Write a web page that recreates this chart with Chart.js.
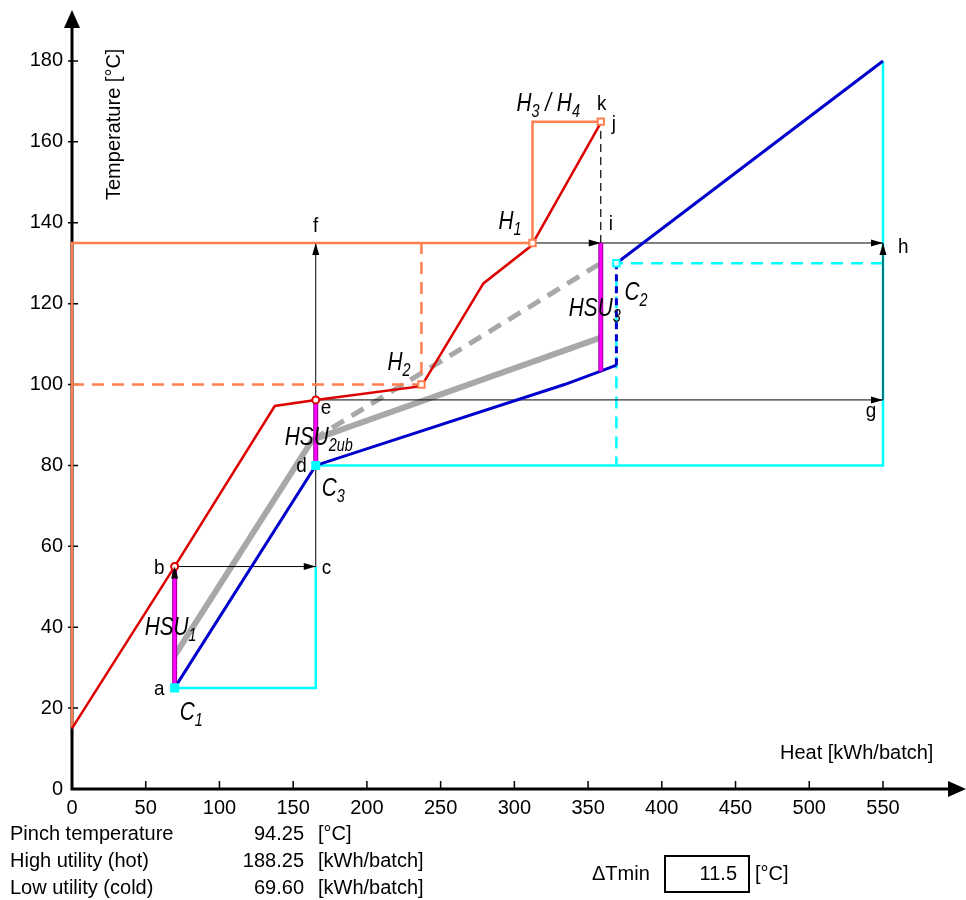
<!DOCTYPE html>
<html>
<head>
<meta charset="utf-8">
<script src="https://cdn.jsdelivr.net/npm/chart.js@4.4.0/dist/chart.umd.min.js"></script>
<style>
  html, body { margin: 0; padding: 0; background: #fff; }
  canvas { display: block; }
</style>
</head>
<body>
<canvas id="grafico" width="966" height="900"></canvas>
<script>
const FUENTE = '"Liberation Sans", Arial, Helvetica, sans-serif';

// ejes
const xTicks = [0, 50, 100, 150, 200, 250, 300, 350, 400, 450, 500, 550];
const yTicks = [0, 20, 40, 60, 80, 100, 120, 140, 160, 180];

// curva compuesta caliente (roja)
const calienteX = [0, 69.6, 137.5, 165.3, 237, 279, 311.5, 358.6];
const calienteY = [15, 55, 94.7, 96.2, 99.6, 125, 134.3, 164.7];

// curva compuesta fria (azul)
const friaX = [69.6, 165.3, 334, 358.6, 369.2, 369.2, 550];
const friaY = [25, 80, 100, 103.3, 104.8, 130, 180];

// curva desplazada (gris)
const grisX = [69.6, 163, 358.6];
const grisY = [33, 86.3, 111.6];
const grisDashX = [163, 358.6];
const grisDashY = [86.3, 130];

// corrientes calientes H1, H3/H4 y H2 (naranja)
const h1X = [0, 0, 312.3, 312.3, 358.6];
const h1Y = [15, 135, 135, 165, 165];
const h2X = [0, 237, 237];
const h2Y = [100, 100, 135];

// corrientes frias C1, C3, C2 (cian)
const c1X = [69.6, 165.3, 165.3];
const c1Y = [25, 25, 55];
const c3X = [165.3, 550, 550];
const c3Y = [80, 80, 180];
const c2X = [550, 369.2, 369.2];
const c2Y = [130, 130, 80];

// servicios calientes HSU (magenta)
const hsuX  = [69.6, 165.3, 358.6];
const hsuY0 = [25, 80, 103.3];
const hsuY1 = [55, 96.2, 135];

// flechas negras a->b, b->c, c->f, e->g, g->h, f->i, i->h
const flechaDeX  = [69.6, 69.6, 165.3, 165.3, 550, 165.3, 358.6];
const flechaDeY  = [25, 55, 55, 96.2, 96.2, 135, 135];
const flechaAX   = [69.6, 165.3, 165.3, 550, 550, 358.6, 550];
const flechaAY   = [55, 55, 135, 96.2, 135, 135, 135];
const punteadaX  = [358.6, 358.6];
const punteadaY  = [135, 163.5];

// marcadores
const circulosX = [69.6, 165.3];
const circulosY = [55, 96.2];
const cuadNaranjaX = [312.3, 237, 358.6];
const cuadNaranjaY = [135, 100, 165];
const cuadCianX = [369.2];
const cuadCianY = [130];
const cuadLlenoX = [69.6, 165.3];
const cuadLlenoY = [25, 80];

// tabla resumen
const resumenNombres  = ['Pinch temperature', 'High utility (hot)', 'Low utility (cold)'];
const resumenValores  = ['94.25', '188.25', '69.60'];
const resumenUnidades = ['[°C]', '[kWh/batch]', '[kWh/batch]'];
const dTmin = '11.5';

// etiquetas: partes [texto, esSubindice], punto ancla, desplazamiento en px
const etiquetas = [
  { p: [['a']], x: 69.6, y: 25, dx: -10, dy: 7, al: 'right' },
  { p: [['b']], x: 69.6, y: 55, dx: -10, dy: 7, al: 'right' },
  { p: [['c']], x: 165.3, y: 55, dx: 6, dy: 7, al: 'left' },
  { p: [['d']], x: 165.3, y: 80, dx: -9, dy: 7, al: 'right' },
  { p: [['e']], x: 165.3, y: 96.2, dx: 5, dy: 14, al: 'left' },
  { p: [['f']], x: 165.3, y: 135, dx: 0, dy: -11, al: 'center' },
  { p: [['g']], x: 550, y: 96.2, dx: -12, dy: 17, al: 'center' },
  { p: [['h']], x: 550, y: 135, dx: 15, dy: 10, al: 'left' },
  { p: [['i']], x: 358.6, y: 135, dx: 8, dy: -13, al: 'left' },
  { p: [['j']], x: 358.6, y: 165, dx: 11, dy: 8, al: 'left' },
  { p: [['k']], x: 358.6, y: 165, dx: 1, dy: -12, al: 'center' },
  { p: [['C'], ['1', 1]], x: 69.6, y: 25, dx: 5, dy: 32, al: 'left', it: 1 },
  { p: [['C'], ['3', 1]], x: 165.3, y: 80, dx: 6, dy: 31, al: 'left', it: 1 },
  { p: [['C'], ['2', 1]], x: 369.2, y: 130, dx: 8, dy: 37, al: 'left', it: 1 },
  { p: [['H'], ['1', 1]], x: 312.3, y: 135, dx: -34, dy: -14, al: 'left', it: 1 },
  { p: [['H'], ['2', 1]], x: 237, y: 100, dx: -34, dy: -15, al: 'left', it: 1 },
  { p: [['H'], ['3', 1], [' / H'], ['4', 1]], x: 312.3, y: 165, dx: -16, dy: -11, al: 'left', it: 1 },
  { p: [['HSU'], ['1', 1]], x: 69.6, y: 40, dx: -30, dy: 8, al: 'left', it: 1 },
  { p: [['HSU'], ['2ub', 1]], x: 165.3, y: 85, dx: -31, dy: 0, al: 'left', it: 1 },
  { p: [['HSU'], ['3', 1]], x: 358.6, y: 117, dx: -32, dy: 0, al: 'left', it: 1 }
];

function puntos(xs, ys) {
  return xs.map((x, i) => ({ x, y: ys[i] }));
}

function linea(data, color, ancho, orden, trazo) {
  return {
    data,
    borderColor: color,
    backgroundColor: color,
    borderWidth: ancho,
    borderDash: trazo || [],
    showLine: true,
    pointRadius: 0,
    pointHoverRadius: 0,
    tension: 0,
    clip: false,
    borderCapStyle: 'butt',
    borderJoinStyle: 'miter',
    order: orden
  };
}

function marcador(data, estilo, radio, borde, relleno, orden) {
  return {
    data,
    showLine: false,
    pointStyle: estilo,
    pointRadius: radio,
    pointHoverRadius: radio,
    pointBorderWidth: 2,
    pointBorderColor: borde,
    pointBackgroundColor: relleno,
    clip: false,
    order: orden
  };
}

const ROJO = '#dd0000', AZUL = '#0000cc', CIAN = '#00ffff', NARANJA = '#ff7f50', GRIS = '#a8a8a8';

const datasets = [];
datasets.push(linea(puntos(h1X, h1Y), NARANJA, 2.5, 5));
datasets.push(linea(puntos(h2X, h2Y), NARANJA, 2.5, 5, [12, 8]));
datasets.push(linea(puntos(c1X, c1Y), CIAN, 2.5, 8));
datasets.push(linea(puntos(c3X, c3Y), CIAN, 2.5, 8));
datasets.push(linea(puntos(c2X, c2Y), CIAN, 2.5, 8, [12, 8]));
datasets.push(linea(puntos(grisX, grisY), GRIS, 6, 7));
datasets.push(linea(puntos(grisDashX, grisDashY), GRIS, 5, 7, [14, 9]));

const azul = linea(puntos(friaX, friaY), AZUL, 3, 4);
azul.segment = { borderDash: c => (c.p0DataIndex === 4 ? [7, 5] : undefined) };
datasets.push(azul);
datasets.push(linea(puntos(calienteX, calienteY), ROJO, 2.5, 3));

flechaDeX.forEach((_, i) => {
  datasets.push(linea([{ x: flechaDeX[i], y: flechaDeY[i] }, { x: flechaAX[i], y: flechaAY[i] }], '#000', 1, 6));
});
datasets.push(linea(puntos(punteadaX, punteadaY), '#000', 1.2, 6, [8, 5]));

hsuX.forEach((x, i) => {
  datasets.push(linea([{ x, y: hsuY0[i] }, { x, y: hsuY1[i] }], '#9a009a', 5, 2));
  datasets.push(linea([{ x, y: hsuY0[i] }, { x, y: hsuY1[i] }], '#ff00ff', 3, 1));
});

datasets.push(marcador(puntos(cuadLlenoX, cuadLlenoY), 'rect', 5, CIAN, CIAN, 0));
datasets.push(marcador(puntos(circulosX, circulosY), 'circle', 3.5, ROJO, '#fff', 0));
datasets.push(marcador(puntos(cuadNaranjaX, cuadNaranjaY), 'rect', 4.5, NARANJA, '#fff', 0));
datasets.push(marcador(puntos(cuadCianX, cuadCianY), 'rect', 4.5, CIAN, '#fff', 0));

function escribir(ctx, partes, x, y, o) {
  const it = o.it ? 'italic ' : '';
  const sx = o.sx || 1;
  let ancho = 0;
  partes.forEach(([s, sub]) => {
    ctx.font = it + (sub ? o.sub : o.size) + 'px ' + FUENTE;
    ancho += ctx.measureText(s).width;
  });
  let x0 = x;
  if (o.al === 'right') x0 = x - ancho * sx;
  if (o.al === 'center') x0 = x - ancho * sx / 2;
  ctx.save();
  ctx.translate(x0, y);
  ctx.scale(sx, 1);
  ctx.textAlign = 'left';
  ctx.textBaseline = 'alphabetic';
  ctx.fillStyle = '#000';
  let cx = 0;
  partes.forEach(([s, sub]) => {
    ctx.font = it + (sub ? o.sub : o.size) + 'px ' + FUENTE;
    ctx.fillText(s, cx, sub ? 6 : 0);
    cx += ctx.measureText(s).width;
  });
  ctx.restore();
}

const extras = {
  id: 'extras',
  beforeDatasetsDraw(chart) {
    const { ctx, chartArea, scales: { x, y } } = chart;
    const x0 = x.getPixelForValue(0), y0 = y.getPixelForValue(0);
    ctx.save();
    ctx.strokeStyle = '#000';
    ctx.fillStyle = '#000';
    ctx.lineWidth = 3;
    ctx.beginPath();
    ctx.moveTo(x0, y0 + 1.5);
    ctx.lineTo(x0, chartArea.top + 18);
    ctx.moveTo(x0 - 1.5, y0);
    ctx.lineTo(chartArea.right - 16, y0);
    ctx.stroke();
    ctx.beginPath();
    ctx.moveTo(x0, chartArea.top + 2);
    ctx.lineTo(x0 - 8, chartArea.top + 20);
    ctx.lineTo(x0 + 8, chartArea.top + 20);
    ctx.closePath();
    ctx.fill();
    ctx.beginPath();
    ctx.moveTo(chartArea.right, y0);
    ctx.lineTo(chartArea.right - 18, y0 - 8);
    ctx.lineTo(chartArea.right - 18, y0 + 8);
    ctx.closePath();
    ctx.fill();
    ctx.lineWidth = 1.5;
    ctx.beginPath();
    xTicks.slice(1).forEach(v => {
      const p = x.getPixelForValue(v);
      ctx.moveTo(p, y0 - 8);
      ctx.lineTo(p, y0 + 1);
    });
    yTicks.slice(1).forEach(v => {
      const p = y.getPixelForValue(v);
      ctx.moveTo(x0 - 4, p);
      ctx.lineTo(x0 + 6, p);
    });
    ctx.stroke();
    ctx.restore();
  },
  afterDatasetsDraw(chart) {
    const { ctx, scales: { x, y } } = chart;
    ctx.save();
    ctx.fillStyle = '#000';
    flechaDeX.forEach((_, i) => {
      const x1 = x.getPixelForValue(flechaDeX[i]), y1 = y.getPixelForValue(flechaDeY[i]);
      const x2 = x.getPixelForValue(flechaAX[i]), y2 = y.getPixelForValue(flechaAY[i]);
      ctx.save();
      ctx.translate(x2, y2);
      ctx.rotate(Math.atan2(y2 - y1, x2 - x1));
      ctx.beginPath();
      ctx.moveTo(0, 0);
      ctx.lineTo(-12, -3.5);
      ctx.lineTo(-12, 3.5);
      ctx.closePath();
      ctx.fill();
      ctx.restore();
    });
    ctx.restore();
  },
  afterDraw(chart) {
    const { ctx, scales: { x, y } } = chart;
    etiquetas.forEach(e => {
      const px = x.getPixelForValue(e.x) + e.dx;
      const py = y.getPixelForValue(e.y) + e.dy;
      if (e.it) escribir(ctx, e.p, px, py, { it: 1, size: 26, sub: 18, sx: 0.8, al: e.al });
      else escribir(ctx, e.p, px, py, { size: 21, sx: 0.9, al: e.al });
    });

    // titulos de ejes
    escribir(ctx, [['Heat [kWh/batch]']], 780, 759, { size: 20, al: 'left' });
    ctx.save();
    ctx.translate(120, 200);
    ctx.rotate(-Math.PI / 2);
    escribir(ctx, [['Temperature [°C]']], 0, 0, { size: 20, al: 'left' });
    ctx.restore();

    // tabla resumen
    resumenNombres.forEach((n, i) => {
      const by = 840 + i * 27;
      escribir(ctx, [[n]], 10, by, { size: 20, al: 'left' });
      escribir(ctx, [[resumenValores[i]]], 304, by, { size: 20, al: 'right' });
      escribir(ctx, [[resumenUnidades[i]]], 318, by, { size: 20, al: 'left' });
    });
    escribir(ctx, [['ΔTmin']], 592, 880, { size: 20, al: 'left' });
    ctx.save();
    ctx.strokeStyle = '#000';
    ctx.lineWidth = 2;
    ctx.strokeRect(665, 856, 84, 36);
    ctx.restore();
    escribir(ctx, [[dTmin]], 737, 880, { size: 20, al: 'right' });
    escribir(ctx, [['[°C]']], 755, 880, { size: 20, al: 'left' });
  }
};

new Chart(document.getElementById('grafico'), {
  type: 'scatter',
  data: { datasets },
  plugins: [extras],
  options: {
    responsive: false,
    animation: false,
    events: [],
    layout: { autoPadding: false, padding: { top: 8, right: 0, left: 0, bottom: 0 } },
    plugins: { legend: { display: false }, tooltip: { enabled: false } },
    scales: {
      x: {
        type: 'linear', min: 0, max: 606.3,
        grid: { display: false, drawTicks: false },
        border: { display: false },
        afterBuildTicks: s => { s.ticks = xTicks.map(v => ({ value: v })); },
        afterFit: s => { s.height = 111; s.paddingLeft = 0; s.paddingRight = 0; },
        ticks: { padding: 7, color: '#000', font: { family: FUENTE, size: 20 }, maxRotation: 0, autoSkip: false }
      },
      y: {
        type: 'linear', min: 0, max: 193.1,
        grid: { display: false, drawTicks: false },
        border: { display: false },
        afterBuildTicks: s => { s.ticks = yTicks.map(v => ({ value: v })); },
        afterFit: s => { s.width = 72; s.paddingTop = 0; s.paddingBottom = 0; },
        ticks: { padding: 9, color: '#000', font: { family: FUENTE, size: 20 }, autoSkip: false }
      }
    }
  }
});
</script>
</body>
</html>
